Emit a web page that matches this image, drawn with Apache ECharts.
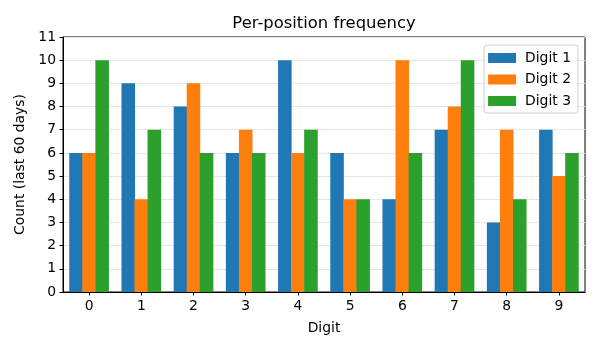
<!DOCTYPE html>
<html>
<head>
<meta charset="utf-8">
<script src="https://cdn.jsdelivr.net/npm/echarts@6/dist/echarts.min.js"></script>
<style>
  html, body { margin: 0; padding: 0; background: #fff; }
  #chart { width: 600px; height: 350px; }
</style>
</head>
<body>
<div id="chart"></div>
<script>
// Digits 0-9 and how often each appeared at each position over the last 60 days
const digits = [0, 1, 2, 3, 4, 5, 6, 7, 8, 9];
const digit1 = [6, 9, 8, 6, 10, 6, 4, 7, 3, 7];
const digit2 = [6, 4, 9, 7, 6, 4, 10, 8, 7, 5];
const digit3 = [10, 7, 6, 6, 7, 4, 6, 10, 4, 6];
const seriesNames = ['Digit 1', 'Digit 2', 'Digit 3'];
const yTicks = [0, 1, 2, 3, 4, 5, 6, 7, 8, 9, 10, 11];

const colors = ['#1f77b4', '#ff7f0e', '#2ca02c'];
const barW = 0.25;                 // bar width in data units
const xMin = -0.5, xMax = 9.5;
const grid = { left: 63, top: 37, width: 522, height: 255 };
const pxPerUnit = grid.width / (xMax - xMin);

const font = 'DejaVu Sans';
const values = [digit1, digit2, digit3];

const series = values.map((vals, s) => ({
  name: seriesNames[s],
  type: 'bar',
  barWidth: barW * pxPerUnit + 0.5,   // slight overlap so neighbouring bars touch
  barGap: '-100%',
  itemStyle: { color: colors[s] },
  emphasis: { disabled: true },
  data: digits.map((d, i) => [d + (s - 1) * barW, vals[i]])
}));

const chart = echarts.init(document.getElementById('chart'), null, { renderer: 'canvas' });
chart.setOption({
  animation: false,
  backgroundColor: '#fff',
  textStyle: { fontFamily: font },
  title: {
    text: 'Per-position frequency',
    left: grid.left + grid.width / 2 - 5,
    textAlign: 'center',
    top: 11,
    textStyle: { fontFamily: font, fontSize: 16.4, fontWeight: 'normal', color: '#000' }
  },
  legend: {
    orient: 'vertical',
    right: 22,
    top: 45,
    padding: [5, 7, 4, 4],
    itemWidth: 28,
    itemHeight: 10,
    itemGap: 5.5,
    itemStyle: { borderWidth: 0 },
    icon: 'rect',
    backgroundColor: 'rgba(255,255,255,0.8)',
    borderColor: '#cccccc',
    borderWidth: 1,
    borderRadius: 3,
    textStyle: { fontFamily: font, fontSize: 13.9, color: '#000', padding: [0, 0, 0, 4], lineHeight: 16 },
    data: seriesNames
  },
  grid: Object.assign({ show: true, borderColor: '#000', borderWidth: 1, backgroundColor: 'transparent' }, grid),
  xAxis: {
    type: 'value',
    min: xMin,
    max: xMax,
    name: 'Digit',
    nameLocation: 'middle',
    nameGap: 29,
    nameTextStyle: { fontFamily: font, fontSize: 13.9, color: '#000' },
    axisLine: { show: true, onZero: false, lineStyle: { color: '#000', width: 1 } },
    axisTick: { show: true, inside: false, length: 3.5, lineStyle: { color: '#000' }, customValues: digits },
    axisLabel: { fontFamily: font, fontSize: 13.9, color: '#000', margin: 7, customValues: digits },
    splitLine: { show: false }
  },
  yAxis: {
    type: 'value',
    min: 0,
    max: 11,
    interval: 1,
    name: 'Count (last 60 days)',
    nameLocation: 'middle',
    nameRotate: 90,
    nameGap: 36,
    nameTextStyle: { fontFamily: font, fontSize: 13.9, color: '#000' },
    axisLine: { show: true, onZero: false, lineStyle: { color: '#000', width: 1 } },
    axisTick: { show: true, inside: false, length: 3.5, lineStyle: { color: '#000' } },
    axisLabel: { fontFamily: font, fontSize: 13.9, color: '#000', margin: 7,
      formatter: v => yTicks.includes(v) ? String(v) : '' },
    splitLine: { show: true, lineStyle: { color: '#e5e5e5', width: 1 } }
  },
  series: series
});
</script>
</body>
</html>
